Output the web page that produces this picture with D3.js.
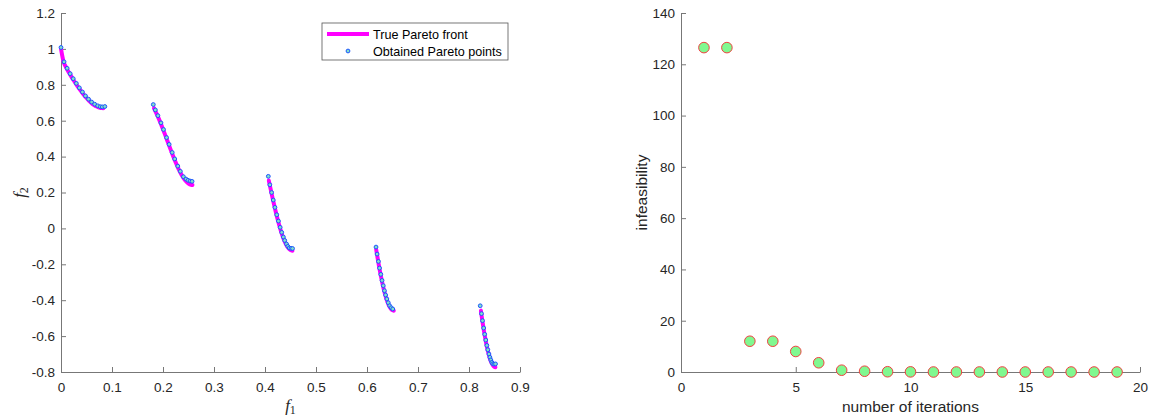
<!DOCTYPE html>
<html><head><meta charset="utf-8">
<script src="https://cdn.jsdelivr.net/npm/d3@7"></script>
<style>
body{margin:0;background:#fff;}
svg{display:block;font-family:"Liberation Sans",Arial,Helvetica,sans-serif;}
</style></head><body>
<svg id="c" width="1155" height="419"></svg>
<script>
// ---- Left chart: true Pareto front ----
const frontSeg1 = [[0,1.0],[0.005,0.9285],[0.01,0.8969],[0.015,0.8707],[0.02,0.8468],[0.025,0.8242],[0.03,0.8025],[0.035,0.7817],[0.04,0.762],[0.045,0.7434],[0.05,0.7264],[0.055,0.7112],[0.06,0.698],[0.065,0.6871],[0.07,0.6788],[0.075,0.6731],[0.08,0.6701],[0.083,0.6697]];
const frontSeg2 = [[0.1822,0.6698],[0.185,0.6539],[0.19,0.6228],[0.195,0.5889],[0.2,0.5528],[0.205,0.5152],[0.21,0.4769],[0.215,0.4387],[0.22,0.4017],[0.225,0.3666],[0.23,0.3343],[0.235,0.3058],[0.24,0.2818],[0.245,0.263],[0.25,0.25],[0.255,0.2432],[0.2578,0.2422]];
const frontSeg3 = [[0.4075,0.2665],[0.41,0.233],[0.415,0.1674],[0.42,0.1051],[0.425,0.0476],[0.43,-0.0036],[0.435,-0.0471],[0.44,-0.0818],[0.445,-0.1066],[0.45,-0.1208],[0.4539,-0.1242]];
const frontSeg4 = [[0.618,-0.1173],[0.62,-0.1518],[0.625,-0.2325],[0.63,-0.3034],[0.635,-0.3627],[0.64,-0.4087],[0.645,-0.4402],[0.65,-0.4562],[0.6525,-0.4583]];
const frontSeg5 = [[0.8233,-0.458],[0.825,-0.4917],[0.8275,-0.5389],[0.83,-0.5825],[0.8325,-0.6222],[0.835,-0.6578],[0.8375,-0.6889],[0.84,-0.7154],[0.8425,-0.7371],[0.845,-0.7538],[0.8475,-0.7655],[0.85,-0.772],[0.8518,-0.7733]];
const frontSegments = [frontSeg1, frontSeg2, frontSeg3, frontSeg4, frontSeg5];

// ---- Left chart: obtained Pareto points ----
const obtF1 = [0,0.006,0.012,0.018,0.024,0.030,0.036,0.042,0.048,0.054,0.060,0.066,0.072,0.077,0.081,0.086,
  0.181,0.185,0.19,0.196,0.201,0.207,0.212,0.218,0.223,0.229,0.234,0.240,0.245,0.249,0.253,0.257,
  0.4065,0.4095,0.413,0.4162,0.4195,0.4231,0.4263,0.4297,0.4328,0.436,0.4387,0.4422,0.4448,0.4475,0.451,0.454,
  0.6177,0.6198,0.6224,0.6246,0.6271,0.6295,0.6319,0.6342,0.6365,0.6389,0.6417,0.6444,0.6475,0.6505,
  0.822,0.8245,0.8265,0.8288,0.8308,0.8329,0.835,0.8369,0.8391,0.841,0.8428,0.8448,0.8465,0.849,0.852];
const obtF2 = [1.008,0.928,0.892,0.862,0.834,0.808,0.783,0.760,0.738,0.720,0.704,0.692,0.683,0.678,0.677,0.679,
  0.690,0.660,0.628,0.588,0.551,0.506,0.468,0.423,0.387,0.347,0.318,0.288,0.275,0.268,0.264,0.262,
  0.290,0.243,0.200,0.158,0.117,0.076,0.041,0.006,-0.022,-0.048,-0.067,-0.087,-0.100,-0.109,-0.111,-0.112,
  -0.104,-0.143,-0.184,-0.221,-0.256,-0.290,-0.319,-0.347,-0.371,-0.393,-0.414,-0.431,-0.442,-0.449,
  -0.431,-0.475,-0.514,-0.555,-0.590,-0.622,-0.652,-0.676,-0.700,-0.718,-0.733,-0.746,-0.754,-0.756,-0.755];
const leftXTicks = [0,0.1,0.2,0.3,0.4,0.5,0.6,0.7,0.8,0.9];
const leftYTicks = [-0.8,-0.6,-0.4,-0.2,0,0.2,0.4,0.6,0.8,1,1.2];
const legendLabels = ["True Pareto front","Obtained Pareto points"];

// ---- Right chart ----
const iterations = [1,2,3,4,5,6,7,8,9,10,11,12,13,14,15,16,17,18,19];
const infeasibility = [126.5,126.5,12,12,8,3.6,0.7,0.3,0.1,0.05,0,0,0,0,0,0,0,0,0];
const rightXTicks = [0,5,10,15,20];
const rightYTicks = [0,20,40,60,80,100,120,140];

const svg = d3.select("#c");
const axisCol = "#777";
const textCol = "#262626";
const yTop = 13, yBot = 372;

function styleAxis(g){
  g.select(".domain").attr("stroke", axisCol).attr("stroke-width",1);
  g.selectAll(".tick line").attr("stroke", axisCol);
  g.selectAll(".tick text").attr("fill", textCol).attr("font-size","13.5px").attr("font-family","'Liberation Sans',Arial,sans-serif");
}

// ===== Left =====
const xL = d3.scaleLinear().domain([0,0.9]).range([61,520]);
const yL = d3.scaleLinear().domain([-0.8,1.2]).range([yBot,yTop]);

const gL = svg.append("g");
const fmtL = d => String(+(+d).toFixed(1));
gL.append("g").attr("transform",`translate(0,${yBot})`)
  .call(d3.axisBottom(xL).tickValues(leftXTicks).tickSize(-5).tickPadding(10).tickFormat(fmtL).tickSizeOuter(0))
  .call(styleAxis);
gL.append("g").attr("transform",`translate(${xL.range()[0]},0)`)
  .call(d3.axisLeft(yL).tickValues(leftYTicks).tickSize(-5).tickPadding(6).tickFormat(fmtL).tickSizeOuter(0))
  .call(styleAxis);

const line = d3.line().x(d=>xL(d[0])).y(d=>yL(d[1])).curve(d3.curveMonotoneX);
gL.selectAll("path.front").data(frontSegments).join("path").attr("class","front")
  .attr("d", line).attr("fill","none").attr("stroke","#ff00ff").attr("stroke-width",4).attr("stroke-linecap","round");

gL.selectAll("circle.obt").data(obtF1.map((v,i)=>[v,obtF2[i]])).join("circle").attr("class","obt")
  .attr("cx",d=>xL(d[0])).attr("cy",d=>yL(d[1])).attr("r",1.9)
  .attr("fill","#7fe0c8").attr("stroke","#1f55ff").attr("stroke-width",1);

// axis labels
const fx = gL.append("text").attr("x",(xL.range()[0]+xL.range()[1])/2).attr("y",411).attr("text-anchor","middle")
  .attr("font-family","'Liberation Serif','Times New Roman',serif").attr("font-style","italic").attr("font-size","17px").attr("fill",textCol);
fx.append("tspan").text("f");
fx.append("tspan").text("1").attr("font-size","12px").attr("font-style","normal").attr("dy",3);
const fy = gL.append("text").attr("transform",`translate(25,${(yTop+yBot)/2}) rotate(-90)`).attr("text-anchor","middle")
  .attr("font-family","'Liberation Serif','Times New Roman',serif").attr("font-style","italic").attr("font-size","17px").attr("fill",textCol);
fy.append("tspan").text("f");
fy.append("tspan").text("2").attr("font-size","12px").attr("font-style","normal").attr("dy",3);

// legend
const lg = gL.append("g");
lg.append("rect").attr("x",322).attr("y",23).attr("width",186).attr("height",37)
  .attr("fill","#fff").attr("stroke","#555").attr("stroke-width",0.8);
lg.append("line").attr("x1",327).attr("x2",369).attr("y1",34).attr("y2",34).attr("stroke","#ff00ff").attr("stroke-width",4);
lg.append("circle").attr("cx",348).attr("cy",51).attr("r",1.9).attr("fill","#7fe0c8").attr("stroke","#1f55ff").attr("stroke-width",1);
lg.selectAll("text").data(legendLabels).join("text").attr("x",373).attr("y",(d,i)=>38.5+i*17)
  .attr("font-size","12.6px").attr("fill","#000").text(d=>d);

// ===== Right =====
const xR = d3.scaleLinear().domain([0,20]).range([681,1140]);
const yR = d3.scaleLinear().domain([0,140]).range([yBot,yTop]);
const gR = svg.append("g");
gR.append("g").attr("transform",`translate(0,${yBot})`)
  .call(d3.axisBottom(xR).tickValues(rightXTicks).tickSize(-5).tickPadding(10).tickSizeOuter(0))
  .call(styleAxis);
gR.append("g").attr("transform",`translate(${xR.range()[0]},0)`)
  .call(d3.axisLeft(yR).tickValues(rightYTicks).tickSize(-5).tickPadding(6).tickSizeOuter(0))
  .call(styleAxis);
gR.selectAll("circle.inf").data(iterations.map((v,i)=>[v,infeasibility[i]])).join("circle").attr("class","inf")
  .attr("cx",d=>xR(d[0])).attr("cy",d=>yR(d[1])).attr("r",5.3)
  .attr("fill","#80f890").attr("stroke","#f04040").attr("stroke-width",1);
gR.append("text").attr("x",(xR.range()[0]+xR.range()[1])/2).attr("y",412).attr("text-anchor","middle")
  .attr("font-size","15.5px").attr("fill",textCol).text("number of iterations");
gR.append("text").attr("transform",`translate(647,${(yTop+yBot)/2}) rotate(-90)`).attr("text-anchor","middle")
  .attr("font-size","15.5px").attr("fill",textCol).text("infeasibility");
</script></body></html>
